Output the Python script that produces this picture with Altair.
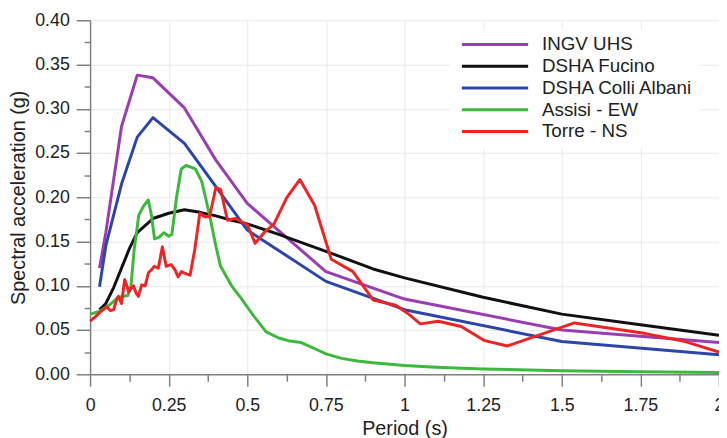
import altair as alt
import pandas as pd

series_names = ["INGV UHS", "DSHA Fucino", "DSHA Colli Albani", "Assisi - EW", "Torre - NS"]
series_colors = ["#9a3db3", "#111111", "#2e45a8", "#3cb83c", "#ee2424"]

uhs_t = [0.03, 0.05, 0.1, 0.15, 0.2, 0.3, 0.4, 0.5, 0.75, 1.0, 1.5, 2.0]
uhs_sa = [0.120, 0.160, 0.280, 0.338, 0.335, 0.301, 0.242, 0.193, 0.116, 0.085, 0.050, 0.036]

fuc_t = [0.03, 0.05, 0.075, 0.1, 0.125, 0.15, 0.2, 0.25, 0.3, 0.35, 0.4, 0.45, 0.5, 0.6,
         0.75, 0.9, 1.0, 1.25, 1.5, 1.75, 2.0]
fuc_sa = [0.073, 0.080, 0.098, 0.120, 0.142, 0.160, 0.176, 0.182, 0.186, 0.183, 0.179, 0.174,
          0.170, 0.158, 0.139, 0.119, 0.109, 0.087, 0.068, 0.056, 0.044]

alb_t = [0.03, 0.05, 0.1, 0.15, 0.2, 0.3, 0.4, 0.5, 0.75, 1.0, 1.5, 2.0]
alb_sa = [0.099, 0.145, 0.215, 0.268, 0.290, 0.261, 0.212, 0.163, 0.105, 0.073, 0.037, 0.022]

ass_t = [0.0, 0.03, 0.06, 0.09, 0.12, 0.13, 0.14, 0.155, 0.17, 0.185, 0.195, 0.205, 0.22,
         0.235, 0.25, 0.26, 0.275, 0.29, 0.305, 0.335, 0.355, 0.38, 0.4, 0.415, 0.45, 0.48,
         0.52, 0.56, 0.6, 0.63, 0.67, 0.72, 0.75, 0.8, 0.85, 0.9, 1.0, 1.1, 1.25, 1.5, 1.75, 2.0]
ass_sa = [0.068, 0.071, 0.078, 0.087, 0.089, 0.100, 0.140, 0.180, 0.190, 0.197, 0.180, 0.153,
          0.155, 0.160, 0.156, 0.158, 0.200, 0.232, 0.236, 0.232, 0.218, 0.180, 0.145, 0.122,
          0.100, 0.086, 0.066, 0.048, 0.041, 0.038, 0.036, 0.028, 0.023, 0.018, 0.015, 0.013,
          0.010, 0.008, 0.006, 0.004, 0.003, 0.002]

tor_t = [0.0, 0.02, 0.031, 0.045, 0.053, 0.065, 0.075, 0.085, 0.09, 0.1, 0.11, 0.117, 0.123,
         0.13, 0.138, 0.146, 0.154, 0.164, 0.175, 0.186, 0.195, 0.204, 0.217, 0.23, 0.242,
         0.258, 0.27, 0.28, 0.29, 0.302, 0.318, 0.333, 0.349, 0.364, 0.38, 0.4, 0.415, 0.437,
         0.462, 0.5, 0.525, 0.553, 0.585, 0.626, 0.667, 0.714, 0.767, 0.836, 0.9, 0.972,
         1.013, 1.05, 1.107, 1.18, 1.255, 1.327, 1.54, 1.767, 1.893, 2.0]
tor_sa = [0.060, 0.066, 0.070, 0.074, 0.076, 0.072, 0.073, 0.085, 0.088, 0.080, 0.107, 0.100,
          0.093, 0.097, 0.100, 0.092, 0.088, 0.101, 0.100, 0.115, 0.118, 0.122, 0.120, 0.144,
          0.122, 0.124, 0.118, 0.110, 0.116, 0.114, 0.112, 0.141, 0.182, 0.178, 0.178, 0.211,
          0.209, 0.174, 0.176, 0.169, 0.148, 0.160, 0.170, 0.200, 0.220, 0.191, 0.130, 0.116,
          0.084, 0.078, 0.068, 0.057, 0.060, 0.054, 0.038, 0.032, 0.058, 0.046, 0.037, 0.025]

x_ticks = [i * 0.125 for i in range(17)]
y_ticks = [round(i * 0.025, 3) for i in range(17)]

rows = []
for name, ts, vs in zip(series_names,
                        [uhs_t, fuc_t, alb_t, ass_t, tor_t],
                        [uhs_sa, fuc_sa, alb_sa, ass_sa, tor_sa]):
    for i, (t, v) in enumerate(zip(ts, vs)):
        rows.append({"series": name, "period": t, "sa": v, "order": i})
df = pd.DataFrame(rows)

FONT = "Liberation Sans"
TXT = "#222222"
AX = "#808080"

x_major = "abs(datum.value*4 - round(datum.value*4)) < 0.000001"
y_major = "abs(datum.value*20 - round(datum.value*20)) < 0.000001"

x_axis = alt.Axis(
    values=x_ticks,
    labelExpr=f"({x_major}) ? '' + datum.value : ''",
    tickSize={"condition": {"test": x_major, "value": 12}, "value": 7},
    gridOpacity={"condition": {"test": x_major, "value": 1}, "value": 0},
    labelOverlap=False,
    labelFlush=False,
    labelPadding=11,
    labelFontSize=18,
    title="Period (s)",
    titleFontSize=20,
    titlePadding=4,
)
y_axis = alt.Axis(
    values=y_ticks,
    labelExpr=f"({y_major}) ? format(datum.value, '.2f') : ''",
    tickSize={"condition": {"test": y_major, "value": 14}, "value": 6},
    gridOpacity={"condition": {"test": y_major, "value": 1}, "value": 0},
    labelOverlap=False,
    labelFlush=False,
    labelPadding=7,
    labelFontSize=18,
    title="Spectral acceleration (g)",
    titleFontSize=20,
    titlePadding=6,
)

legend = alt.Legend(
    orient="none",
    legendX=364,
    legendY=9,
    title=None,
    symbolType="M-6.7,0H6.7",
    symbolSize=100,
    symbolStrokeWidth=3,
    symbolOffset=30,
    labelOffset=38,
    labelFontSize=19,
    labelFont=FONT,
    labelColor=TXT,
    labelLimit=300,
    fillColor="white",
    padding=6,
    rowPadding=2,
)

chart = alt.Chart(df).mark_line(strokeWidth=3, strokeJoin="round").encode(
    x=alt.X("period:Q", scale=alt.Scale(domain=[0, 2], nice=False, zero=False), axis=x_axis),
    y=alt.Y("sa:Q", scale=alt.Scale(domain=[0, 0.4], nice=False), axis=y_axis),
    color=alt.Color("series:N", scale=alt.Scale(domain=series_names, range=series_colors),
                    sort=series_names, legend=legend),
    order=alt.Order("order:Q"),
).properties(
    width=636,
    height=358,
    autosize=alt.AutoSizeParams(type="none"),
    padding={"left": 83, "top": 10, "right": 0, "bottom": 62},
).configure_view(
    stroke=None
).configure_axis(
    labelFont=FONT,
    titleFont=FONT,
    labelColor=TXT,
    titleColor=TXT,
    titleFontWeight="normal",
    domainColor=AX,
    domainWidth=1.5,
    tickColor=AX,
    tickWidth=1.5,
    gridColor="#e9e9e9",
    gridWidth=1,
)

chart.save("out.html", embed_options={"renderer": "svg", "actions": False})
